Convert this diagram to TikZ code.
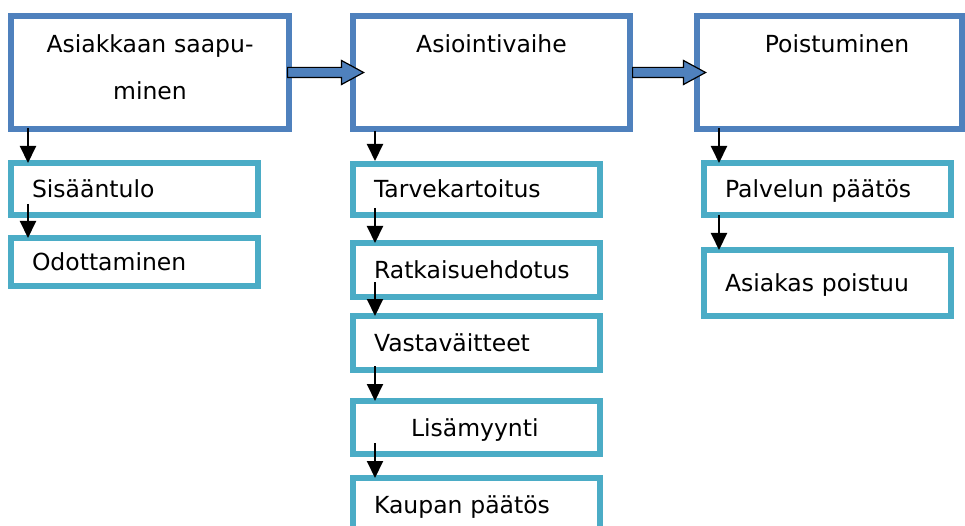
\documentclass[tikz,border=0pt]{standalone}
\usepackage{fontspec}
\setmainfont{DejaVu Sans}
\usepackage{tikz}
\usetikzlibrary{arrows.meta,shapes.arrows}

\definecolor{phaseblue}{HTML}{4F81BD}
\definecolor{stepcyan}{HTML}{4BACC6}

\tikzset{
  phase/.style={draw=phaseblue, line width=6.5pt, outer sep=0pt, inner sep=0pt,
    minimum height=113pt, align=center, text height=37pt, text depth=76pt,
    font=\fontsize{23.5}{47}\selectfont},
  stepbox/.style={draw=stepcyan, line width=6.5pt, outer sep=0pt, inner ysep=0pt,
    inner xsep=21pt, text width=205pt, align=left, text height=17pt, text depth=0pt,
    font=\fontsize{23.5}{28}\selectfont},
  flow/.style={line width=2pt, -{Triangle[length=17pt,width=16pt]}},
  bigarrow/.style={single arrow, draw=black, line width=1.2pt, fill=phaseblue,
    inner xsep=0pt, inner ysep=4.5pt, single arrow head extend=6.9pt,
    single arrow tip angle=57},
}

\begin{document}
\begin{tikzpicture}[x=1pt,y=-1pt]
\useasboundingbox (0,0) rectangle (965,526);

\node[phase, minimum width=278pt, text width=278pt] (arrive) at (150,72.5) {Asiakkaan saapu-\\minen};
\node[phase, minimum width=277pt, text width=277pt] (service) at (491.5,72.5) {Asiointivaihe};
\node[phase, minimum width=265pt, text width=265pt] (leave) at (829.5,72.5) {\hspace*{15pt}Poistuminen};

\node[stepbox, minimum height=52pt] (enter) at (134.5,189) {Sisääntulo};
\node[stepbox, minimum height=48pt] (wait) at (134.5,262) {Odottaminen};

\node[stepbox, minimum height=51pt] (needs) at (476.5,189.5) {Tarvekartoitus};
\node[stepbox, minimum height=54pt] (offer) at (476.5,270) {Ratkaisuehdotus};
\node[stepbox, minimum height=54pt] (objections) at (476.5,343) {Vastaväitteet};
\node[stepbox, minimum height=53pt] (upsell) at (476.5,427.5) {\hspace*{37pt}Lisämyynti};
\node[stepbox, minimum height=54pt] (deal) at (476.5,505) {Kaupan päätös};

\node[stepbox, minimum height=52pt] (decision) at (827.5,189) {Palvelun päätös};
\node[stepbox, minimum height=66pt] (exit) at (827.5,283) {Asiakas poistuu};

\node[bigarrow, minimum height=76pt, anchor=tail] (toservice) at ([xshift=-2pt]arrive.east) {};
\node[bigarrow, minimum height=73pt, anchor=tail] (toleave) at ([xshift=2pt]service.east) {};

\draw[flow] ([xshift=17pt,yshift=1pt]arrive.south west) -- ([xshift=17pt]enter.north west);
\draw[flow] ([xshift=17pt,yshift=11pt]enter.south west) -- ([xshift=17pt]wait.north west);

\draw[flow] ([xshift=22pt,yshift=-2pt]service.south west) -- ([xshift=22pt,yshift=3pt]needs.north west);
\draw[flow] ([xshift=22pt,yshift=7pt]needs.south west) -- ([xshift=22pt]offer.north west);
\draw[flow] ([xshift=22pt,yshift=15pt]offer.south west) -- ([xshift=22pt]objections.north west);
\draw[flow] ([xshift=22pt,yshift=4pt]objections.south west) -- ([xshift=22pt]upsell.north west);
\draw[flow] ([xshift=22pt,yshift=11pt]upsell.south west) -- ([xshift=22pt]deal.north west);

\draw[flow] ([xshift=22pt,yshift=1pt]leave.south west) -- ([xshift=15pt]decision.north west);
\draw[flow] ([xshift=15pt]decision.south west) -- ([xshift=15pt]exit.north west);
\end{tikzpicture}
\end{document}
